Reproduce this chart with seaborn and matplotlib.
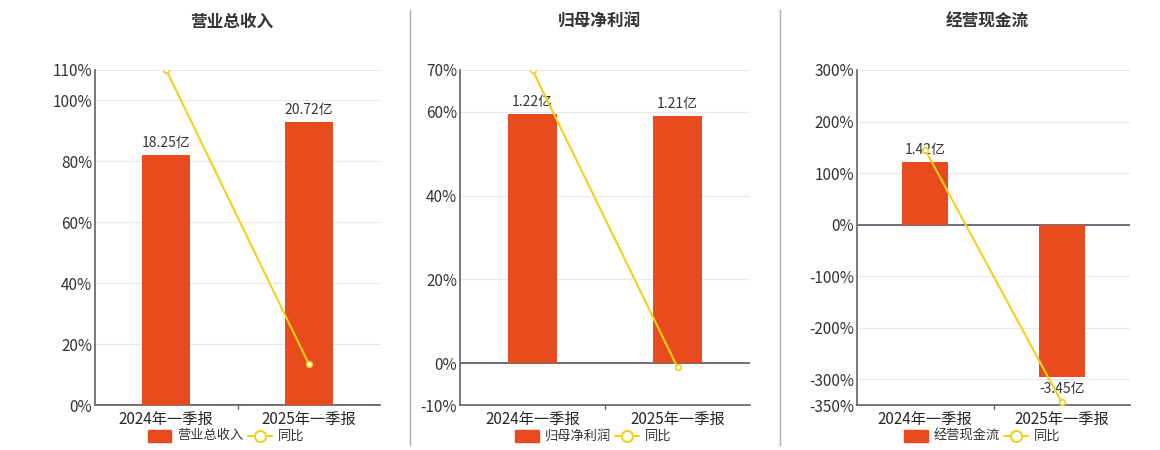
import matplotlib
matplotlib.use("Agg")
import matplotlib.pyplot as plt
import seaborn as sns
import pandas as pd

sns.set_theme(style="white")
plt.rcParams['font.family'] = ['Noto Sans CJK SC', 'DejaVu Sans']

categories = ["2024年一季报", "2025年一季报"]
titles = ["营业总收入", "归母净利润", "经营现金流"]
bar_values = [[18.25, 20.72], [1.22, 1.21], [1.42, -3.45]]
bar_labels = [["18.25亿", "20.72亿"], ["1.22亿", "1.21亿"], ["1.42亿", "-3.45亿"]]
yoy_values = [[110, 13.5], [70, -1], [145, -345]]
pct_ticks = [[0, 20, 40, 60, 80, 100, 110], [-10, 0, 20, 40, 60, 70],
             [-350, -300, -200, -100, 0, 100, 200, 300]]
bar_scale = [0.2227, 0.0205, 0.0117]

BAR = "#E84B1C"
LINE = "#F2D01E"

fig = plt.figure(figsize=(11.6, 4.5), dpi=100)
W, H = 1160, 450
boxes = [(95, 380), (460, 750), (857, 1130)]
for i in range(3):
    x0, x1 = boxes[i]
    ax = fig.add_axes([x0 / W, 1 - 405 / H, (x1 - x0) / W, 335 / H])
    ticks = pct_ticks[i]
    lo, hi = min(ticks), max(ticks)
    ax.set_ylim(lo, hi)
    ax.set_yticks(ticks)
    ax.set_yticklabels([f"{t}%" for t in ticks], fontsize=11, color="#333333")
    for t in ticks:
        ax.axhline(t, color="#E6E8EE", lw=0.8, zorder=0)
    ax.axhline(0, color="#555566", lw=1.2, zorder=1)
    ax.set_xlim(-0.5, 1.5)
    ax.set_xticks([0, 1])
    ax.set_xticklabels(categories, fontsize=11, color="#333333")
    ax.tick_params(axis="x", length=0, pad=4)
    ax.tick_params(axis="y", length=0, pad=2)
    for s in ["top", "right"]:
        ax.spines[s].set_visible(False)
    ax.spines["left"].set_color("#666677")
    ax.spines["bottom"].set_color("#666677")
    ax.spines["bottom"].set_position(("data", lo))

    ax2 = ax.twinx()
    sc = bar_scale[i]
    ax2.set_ylim(lo * sc, hi * sc)
    df = pd.DataFrame({"cat": categories, "val": bar_values[i]})
    sns.barplot(data=df, x="cat", y="val", ax=ax2, color=BAR, width=0.34, saturation=1, zorder=2)
    for p in ax2.patches:
        p.set_edgecolor("none")
    ax2.set_xlim(-0.5, 1.5)
    ax2.axis("off")
    for j, v in enumerate(bar_values[i]):
        off = (hi - lo) * sc * 0.015
        ax2.text(j, v + off if v >= 0 else v - off, bar_labels[i][j], ha="center",
                 va="bottom" if v >= 0 else "top", fontsize=10, color="#333333", zorder=5)

    ax3 = ax.twinx()
    ax3.set_ylim(lo, hi)
    ax3.axis("off")
    dl = pd.DataFrame({"x": [0, 1], "y": yoy_values[i]})
    sns.lineplot(data=dl, x="x", y="y", ax=ax3, color=LINE, lw=1.5, marker="o",
                 markersize=4, markerfacecolor="white", markeredgecolor=LINE, markeredgewidth=1.2)
    ax3.set_xlim(-0.5, 1.5)
    # bottom tick in middle
    ax.plot([0.5, 0.5], [lo, lo - (hi - lo) * 0.012], color="#666677", lw=1, clip_on=False)

    cx = (x0 + x1) / 2
    fig.text(cx / W - 0.005, 1 - 22 / H, titles[i], ha="center", va="center", fontsize=12,
             fontweight="bold", color="#333333")
    # legend
    lx = cx - 60
    fig.patches.append(plt.Rectangle(((lx - 30) / W, 1 - 442 / H), 24 / W, 12 / H,
                                     transform=fig.transFigure, color=BAR))
    fig.text((lx) / W, 1 - 436 / H, titles[i], va="center", fontsize=9.5, color="#333333")
    ly = 1 - 436 / H
    lx2 = lx + len(titles[i]) * 12 + 10
    fig.lines.append(plt.Line2D([lx2 / W, (lx2 + 24) / W], [ly, ly], transform=fig.transFigure,
                                color=LINE, lw=1.5))
    fig.lines.append(plt.Line2D([(lx2 + 12) / W], [ly], transform=fig.transFigure, marker="o",
                                markersize=8, markerfacecolor="white", markeredgecolor=LINE, markeredgewidth=1.5))
    fig.text((lx2 + 30) / W, ly, "同比", va="center", fontsize=9.5, color="#333333")

for xd in [410, 780]:
    fig.lines.append(plt.Line2D([xd / W, xd / W], [1 - 10 / H, 1 - 445 / H], transform=fig.transFigure,
                                color="#AAAAAA", lw=1))

fig.savefig("out.png", dpi=100)
